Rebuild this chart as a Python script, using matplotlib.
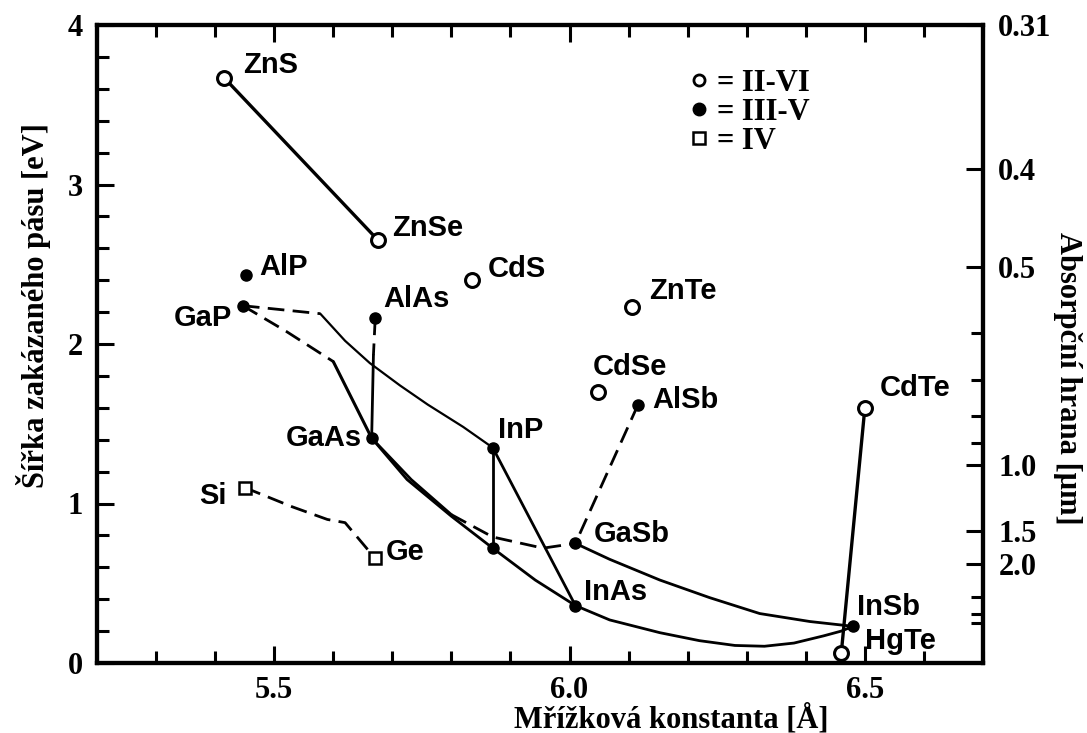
import matplotlib.pyplot as plt
from matplotlib.lines import Line2D
from matplotlib.ticker import MultipleLocator, FixedLocator

# compounds: name, lattice constant [A], band gap [eV]
ii_vi_names = ['ZnS', 'ZnSe', 'CdS', 'ZnTe', 'CdSe', 'CdTe', 'HgTe']
ii_vi_a = [5.415, 5.676, 5.835, 6.106, 6.048, 6.50, 6.46]
ii_vi_eg = [3.67, 2.65, 2.40, 2.23, 1.70, 1.60, 0.06]

iii_v_names = ['AlP', 'GaP', 'AlAs', 'GaAs', 'InP', 'AlSb', 'GaSb', 'InAs', 'InSb', '']
iii_v_a = [5.452, 5.447, 5.671, 5.665, 5.870, 6.116, 6.010, 6.010, 6.480, 5.870]
iii_v_eg = [2.43, 2.24, 2.16, 1.41, 1.35, 1.62, 0.75, 0.36, 0.23, 0.72]

iv_names = ['Si', 'Ge']
iv_a = [5.45, 5.67]
iv_eg = [1.10, 0.66]

# label offsets in points (dx, dy, ha)
label_offsets = {
    'ZnS': (14, 9, 'left'), 'ZnSe': (10, 9, 'left'), 'CdS': (11, 8, 'left'),
    'ZnTe': (12, 12, 'left'), 'CdSe': (-4, 18, 'left'), 'CdTe': (11, 14, 'left'),
    'HgTe': (17, 9, 'left'), 'AlP': (10, 6, 'left'), 'GaP': (-8, -9, 'right'),
    'AlAs': (6, 14, 'left'), 'GaAs': (-7, 0, 'right'), 'InP': (4, 13, 'left'),
    'AlSb': (10, 3, 'left'), 'GaSb': (13, 7, 'left'), 'InAs': (6, 10, 'left'),
    'InSb': (3, 14, 'left'), 'Si': (-13, -6, 'right'), 'Ge': (8, 4, 'left'),
}

# alloy lines (solid)
znse_a = [5.415, 5.676]
znse_eg = [3.67, 2.65]
gainp_a = [5.578, 5.62, 5.662, 5.713, 5.76, 5.82, 5.870]
gainp_eg = [2.19, 2.02, 1.88, 1.74, 1.62, 1.48, 1.35]
gaasp_a = [5.60, 5.665]
gaasp_eg = [1.89, 1.41]
algaas_a = [5.668, 5.665]
algaas_eg = [1.93, 1.41]
gainas_a = [5.665, 5.725, 5.80, 5.870, 5.942, 6.010]
gainas_eg = [1.41, 1.15, 0.92, 0.72, 0.52, 0.36]
gaassb_a = [5.665, 5.732, 5.80]
gaassb_eg = [1.41, 1.15, 0.93]
inpas_a = [5.870, 6.010]
inpas_eg = [1.35, 0.36]
ingaasp_a = [5.870, 5.870]
ingaasp_eg = [1.35, 0.72]
gainsb_a = [6.010, 6.068, 6.153, 6.237, 6.322, 6.407, 6.480]
gainsb_eg = [0.75, 0.65, 0.52, 0.41, 0.31, 0.26, 0.23]
inassb_a = [6.010, 6.068, 6.153, 6.22, 6.28, 6.33, 6.38, 6.43, 6.46, 6.480]
inassb_eg = [0.36, 0.27, 0.19, 0.14, 0.11, 0.105, 0.125, 0.17, 0.20, 0.23]
hgcdte_a = [6.50, 6.46]
hgcdte_eg = [1.60, 0.06]

# alloy lines (dashed)
gainp_d_a = [5.447, 5.578]
gainp_d_eg = [2.24, 2.19]
gaasp_d_a = [5.447, 5.52, 5.60]
gaasp_d_eg = [2.24, 2.08, 1.89]
alas_d_a = [5.671, 5.668]
alas_d_eg = [2.16, 1.93]
gaassb_d_a = [5.80, 5.87, 5.955, 6.010]
gaassb_d_eg = [0.93, 0.79, 0.72, 0.75]
alsb_d_a = [6.116, 6.010]
alsb_d_eg = [1.62, 0.75]
sige_d_a = [5.45, 5.53, 5.59, 5.62, 5.67]
sige_d_eg = [1.10, 0.98, 0.90, 0.88, 0.66]

# right axis: absorption edge wavelength [um]
wl_major = [0.31, 0.4, 0.5, 1.0, 1.5, 2.0]
wl_major_labels = ['0.31', '0.4', '0.5', '1.0', '1.5', '2.0']
wl_minor = [0.6, 0.7, 0.8, 0.9, 3.0, 4.0, 5.0]

serif = {'family': 'Liberation Serif', 'weight': 'bold', 'size': 22}
sans = {'family': 'Liberation Sans', 'weight': 'bold', 'size': 21}

fig = plt.figure(figsize=(10.87, 7.33), dpi=100)
ax = fig.add_axes([97 / 1087, 70 / 733, 886 / 1087, 638 / 733])

solid = [(znse_a, znse_eg, 2.4), (gainp_a, gainp_eg, 1.6), (gaasp_a, gaasp_eg, 2.2),
         (algaas_a, algaas_eg, 2.0), (gainas_a, gainas_eg, 2.0), (gaassb_a, gaassb_eg, 2.0),
         (inpas_a, inpas_eg, 2.0), (ingaasp_a, ingaasp_eg, 2.0), (gainsb_a, gainsb_eg, 2.0),
         (inassb_a, inassb_eg, 2.0), (hgcdte_a, hgcdte_eg, 2.4)]
for xs, ys, lw in solid:
    ax.plot(xs, ys, '-', color='black', lw=lw, solid_capstyle='round', solid_joinstyle='round')

dashed = [(gainp_d_a, gainp_d_eg), (gaasp_d_a, gaasp_d_eg), (alas_d_a, alas_d_eg),
          (gaassb_d_a, gaassb_d_eg), (alsb_d_a, alsb_d_eg), (sige_d_a, sige_d_eg)]
for xs, ys in dashed:
    ax.plot(xs, ys, color='black', lw=2.0, dashes=(6, 3))

ax.plot(ii_vi_a, ii_vi_eg, 'o', ls='none', ms=10, mfc='white', mec='black', mew=2.2, zorder=5)
ax.plot(iii_v_a, iii_v_eg, 'o', ls='none', ms=8, mfc='black', mec='black', zorder=5)
ax.plot(iv_a, iv_eg, 's', ls='none', ms=9, mfc='white', mec='black', mew=1.8, zorder=5)

for names, xs, ys in [(ii_vi_names, ii_vi_a, ii_vi_eg), (iii_v_names, iii_v_a, iii_v_eg),
                      (iv_names, iv_a, iv_eg)]:
    for name, x, y in zip(names, xs, ys):
        if not name:
            continue
        dx, dy, ha = label_offsets[name]
        ax.annotate(name, (x, y), xytext=(dx, dy), textcoords='offset points',
                    ha=ha, va='center', **sans)

ax.set_xlim(5.2, 6.7)
ax.set_ylim(0, 4)
ax.xaxis.set_major_locator(FixedLocator([5.5, 6.0, 6.5]))
ax.xaxis.set_minor_locator(MultipleLocator(0.1))
ax.yaxis.set_major_locator(MultipleLocator(1))
ax.yaxis.set_minor_locator(MultipleLocator(0.2))
ax.set_xticklabels(['5.5', '6.0', '6.5'], fontdict=serif)
ax.set_yticks([0, 1, 2, 3, 4])
ax.set_yticklabels(['0', '1', '2', '3', '4'], fontdict=serif)
ax.tick_params(which='both', direction='in', top=True, right=False, width=2.2)
ax.tick_params(which='major', length=12)
ax.tick_params(which='minor', length=8.5)
ax.tick_params(axis='y', which='major', pad=10)
ax.tick_params(axis='x', which='major', pad=9)
for sp in ax.spines.values():
    sp.set_linewidth(3)

ax.set_xlabel('Mřížková konstanta [Å]', fontdict=serif, va='center')
ax.xaxis.set_label_coords(0.648, -0.088)
ax.set_ylabel('Šířka zakázaného pásu [eV]', fontdict=serif, va='center')
ax.yaxis.set_label_coords(-0.072, 0.56)

ax2 = ax.twinx()
ax2.set_ylim(0, 4)
ax2.yaxis.set_major_locator(FixedLocator([1.24 / w for w in wl_major]))
ax2.yaxis.set_minor_locator(FixedLocator([1.24 / w for w in wl_minor]))
ax2.set_yticklabels(wl_major_labels, fontdict=serif)
ax2.tick_params(which='both', direction='in', width=2.2, pad=11)
ax2.tick_params(which='major', length=12)
ax2.tick_params(which='minor', length=8.5)
for sp in ax2.spines.values():
    sp.set_linewidth(3)
ax2.set_ylabel('Absorpční hrana [μm]', fontdict=serif, rotation=-90, va='center', ha='center')
ax2.yaxis.set_label_coords(1.095, 0.447)

handles = [
    Line2D([], [], ls='none', marker='o', ms=8, mfc='white', mec='black', mew=2),
    Line2D([], [], ls='none', marker='o', ms=9, mfc='black', mec='black'),
    Line2D([], [], ls='none', marker='s', ms=9, mfc='white', mec='black', mew=1.8),
]
ax.legend(handles, ['= II-VI', '= III-V', '= IV'], loc='upper left',
          bbox_to_anchor=(0.641, 0.965), frameon=False, prop=serif,
          handlelength=0.8, handletextpad=0.2, labelspacing=0.0, borderpad=0.2)

fig.savefig('out.png', dpi=100)
